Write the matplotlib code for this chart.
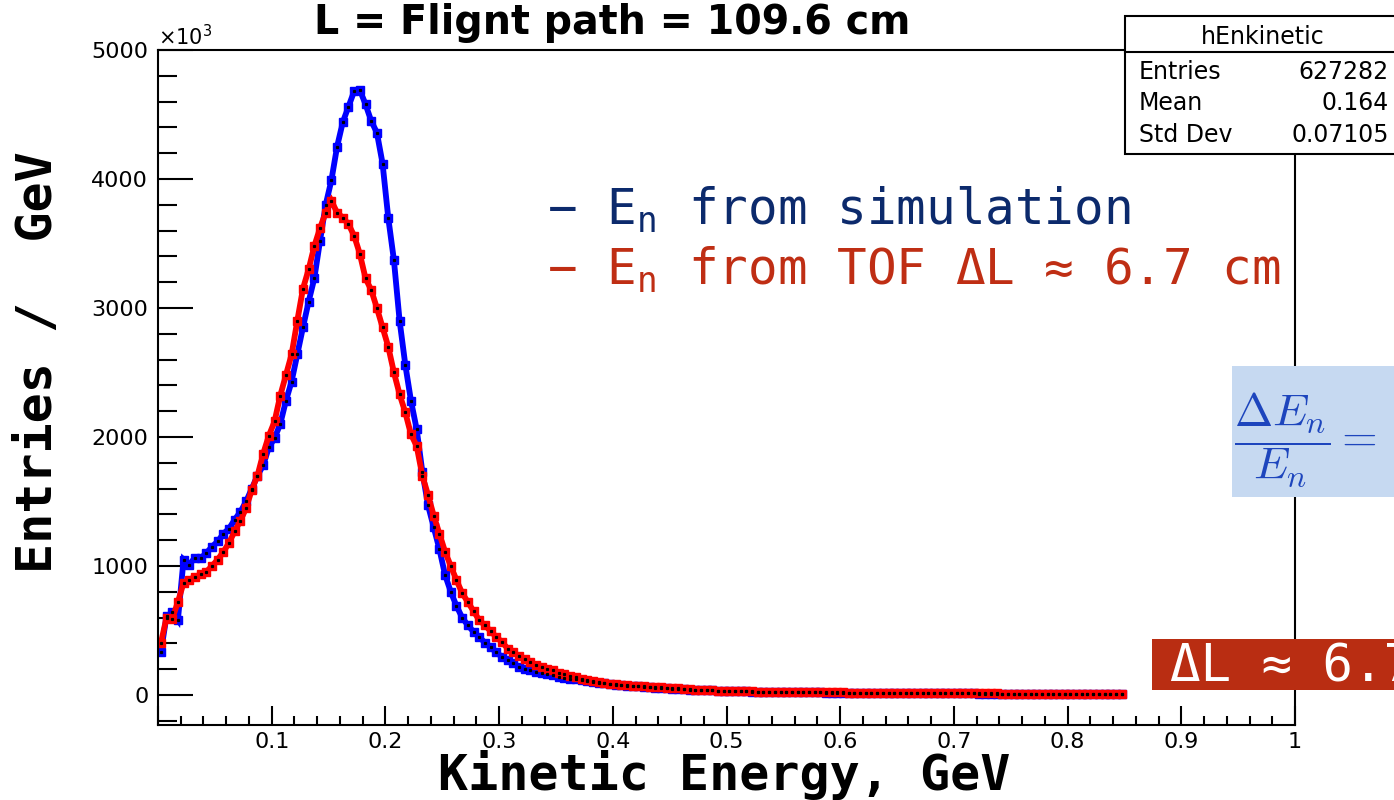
import numpy as np
import matplotlib
matplotlib.use("Agg")
import matplotlib.pyplot as plt
from matplotlib.patches import Rectangle
from matplotlib.ticker import MultipleLocator

plt.rcParams["mathtext.fontset"] = "custom"
plt.rcParams["mathtext.rm"] = "DejaVu Sans Mono"
plt.rcParams["mathtext.it"] = "DejaVu Sans Mono"

# Histogram binning (GeV)
bin_lo = 0.0
bin_w = 0.005

# Bin contents, in units of 10^3 entries / GeV
sim_vals = [
    330, 610, 640, 580, 1050, 1010, 1065, 1060, 1100, 1150,
    1190, 1250, 1290, 1360, 1420, 1500, 1600, 1700, 1780, 1920,
    1990, 2100, 2280, 2430, 2640, 2850, 3050, 3230, 3520, 3800,
    3990, 4250, 4440, 4560, 4680, 4690, 4580, 4450, 4360, 4120,
    3700, 3370, 2900, 2560, 2280, 2060, 1730, 1470, 1300, 1130,
    930, 800, 690, 600, 540, 490, 450, 405, 370, 330,
    295, 270, 245, 220, 205, 190, 180, 170, 162, 152,
    143, 135, 126, 120, 112, 106, 100, 95, 92, 86,
    80, 77, 72, 70, 66, 62, 60, 57, 54, 50,
    48, 46, 44, 42, 40, 38, 36, 35, 33, 32,
    30, 30, 28, 27, 26, 25, 25, 24, 23, 22,
    22, 21, 21, 20, 20, 19, 19, 18, 18, 18,
    17, 17, 17, 16, 16, 16, 15, 15, 15, 15,
    14, 14, 14, 14, 13, 13, 13, 13, 13, 12,
    12, 12, 12, 12, 11, 11, 11, 11, 11, 11,
    10, 10, 10, 10, 10, 10, 9, 9, 9, 9,
    9, 9, 8, 8, 8, 8, 8, 8, 7, 7,
]

tof_vals = [
    400, 600, 590, 720, 870, 895, 915, 935, 955, 1000,
    1050, 1110, 1180, 1270, 1350, 1450, 1590, 1700, 1870, 2010,
    2120, 2320, 2480, 2640, 2900, 3150, 3300, 3480, 3620, 3740,
    3830, 3740, 3700, 3650, 3560, 3420, 3230, 3140, 3000, 2850,
    2700, 2500, 2330, 2190, 2020, 1930, 1700, 1550, 1390, 1250,
    1110, 1000, 890, 790, 720, 650, 580, 540, 495, 450,
    410, 360, 330, 300, 275, 255, 232, 215, 203, 192,
    172, 160, 148, 137, 125, 116, 108, 100, 94, 88,
    82, 78, 75, 72, 70, 66, 64, 62, 58, 55,
    52, 50, 47, 45, 42, 40, 38, 35, 33, 32,
    31, 30, 29, 28, 27, 26, 26, 25, 24, 23,
    23, 22, 22, 22, 21, 21, 20, 20, 20, 19,
    19, 18, 18, 18, 17, 17, 17, 16, 16, 16,
    16, 15, 15, 15, 15, 14, 14, 14, 14, 13,
    13, 13, 13, 12, 12, 12, 12, 12, 11, 11,
    11, 11, 11, 10, 10, 10, 10, 10, 9, 9,
    9, 9, 9, 8, 8, 8, 8, 8, 7, 7,
]

x_ticklabels = ["", "0.1", "0.2", "0.3", "0.4", "0.5", "0.6", "0.7", "0.8", "0.9", "1"]
stat_rows = [("Entries", "627282"), ("Mean", "0.164"), ("Std Dev", "0.07105")]

W, H = 1394, 800
fig = plt.figure(figsize=(W / 100, H / 100), dpi=100)


def fx(x):
    return x / W


def fy(y):
    return 1 - y / H


ax = fig.add_axes([fx(158), fy(725), fx(1295 - 158), (725 - 50) / H])

sim_vals = np.asarray(sim_vals, float)
tof_vals = np.asarray(tof_vals, float)
centers_sim = bin_lo + bin_w * (np.arange(len(sim_vals)) + 0.5)
centers_tof = bin_lo + bin_w * (np.arange(len(tof_vals)) + 0.5)

# thick marker bands: blue first, red on top, small black bin markers inside
for xs, ys, col in ((centers_sim, sim_vals, "#0000ff"), (centers_tof, tof_vals, "#ff0000")):
    ax.plot(xs, ys, ls="-", lw=4.2, color=col, solid_joinstyle="miter",
            marker="s", ms=5.6, mfc=col, mec=col)
for xs, ys in ((centers_sim, sim_vals), (centers_tof, tof_vals)):
    ax.plot(xs, ys, ls="none", marker="s", ms=1.3, color="black")

ax.set_xlim(0, 1)
ax.set_ylim(-233, 5000)
ax.xaxis.set_minor_locator(MultipleLocator(0.02))
ax.yaxis.set_minor_locator(MultipleLocator(200))
ax.set_xticks(np.arange(0, 1.0001, 0.1))
ax.set_xticklabels(x_ticklabels)
ax.set_yticks([0, 1000, 2000, 3000, 4000, 5000])
ax.set_yticklabels(["0", "1000", "2000", "3000", "4000", "5000"])

for sp in ax.spines.values():
    sp.set_linewidth(1.5)
ax.tick_params(axis="both", which="both", direction="in", top=False, right=False, width=1.5)
ax.tick_params(axis="y", which="major", length=25, pad=7, labelsize=16)
ax.tick_params(axis="y", which="minor", length=14)
ax.tick_params(axis="x", which="major", length=14, pad=5, labelsize=16)
ax.tick_params(axis="x", which="minor", length=6.5)
for lab in ax.get_xticklabels() + ax.get_yticklabels():
    lab.set_family("DejaVu Sans")

# exponent of the y axis
fig.text(fx(158), fy(45), r"$\times$10$^3$", fontsize=15, family="DejaVu Sans",
         math_fontfamily="dejavusans", ha="left", va="baseline")

# title
fig.text(fx(612), fy(23), "L = Flignt path = 109.6 cm", fontsize=28.5, weight="bold",
         family="DejaVu Sans", ha="center", va="center")

# axis titles
fig.text(fx(724), fy(790), "Kinetic Energy, GeV", fontsize=36, weight="bold",
         family="DejaVu Sans Mono", ha="center", va="baseline")
fig.text(fx(38), fy(362), "Entries /  GeV", fontsize=36, weight="bold",
         family="DejaVu Sans Mono", rotation=90, ha="center", va="center")

# legend lines
navy = "#0c2a6c"
rust = "#bf2e14"
fig.text(fx(547), fy(225), r"− E$_\mathregular{n}$ from simulation", fontsize=35.5,
         family="DejaVu Sans Mono", color=navy, ha="left", va="baseline")
fig.text(fx(547), fy(285), r"− E$_\mathregular{n}$ from TOF ΔL ≈ 6.7 cm", fontsize=35.5,
         family="DejaVu Sans Mono", color=rust, ha="left", va="baseline")

# statistics box
fig.patches.append(Rectangle((fx(1125), fy(154)), fx(1400 - 1125), (154 - 16) / H,
                             transform=fig.transFigure, facecolor="white",
                             edgecolor="black", linewidth=1.5, zorder=5))
fig.lines.append(plt.Line2D([fx(1125), fx(1400)], [fy(52), fy(52)], transform=fig.transFigure,
                            color="black", linewidth=1.5, zorder=6))
fig.text(fx(1263), fy(37), "hEnkinetic", fontsize=17, family="DejaVu Sans",
         ha="center", va="center", zorder=7)
for i, (name, val) in enumerate(stat_rows):
    yy = 72 + 31.5 * i
    fig.text(fx(1139), fy(yy), name, fontsize=17, family="DejaVu Sans",
             ha="left", va="center", zorder=7)
    fig.text(fx(1389), fy(yy), val, fontsize=17, family="DejaVu Sans",
             ha="right", va="center", zorder=7)

# resolution formula box
fig.patches.append(Rectangle((fx(1232), fy(497)), fx(1400 - 1232), (497 - 366) / H,
                             transform=fig.transFigure, facecolor="#c6d9f1",
                             edgecolor="none", zorder=5))
fig.text(fx(1234), fy(440), r"$\dfrac{\Delta E_n}{E_n} =$", fontsize=33,
         math_fontfamily="cm", color="#1d45bd", ha="left", va="center", zorder=7)

# path-length uncertainty box
fig.patches.append(Rectangle((fx(1152), fy(690)), fx(1400 - 1152), (690 - 639) / H,
                             transform=fig.transFigure, facecolor="#b92d12",
                             edgecolor="none", zorder=5))
fig.text(fx(1170), fy(681), "ΔL ≈ 6.7 cm", fontsize=36.5, family="DejaVu Sans Mono",
         color="white", ha="left", va="baseline", zorder=7)

fig.savefig("out.png", dpi=100)
